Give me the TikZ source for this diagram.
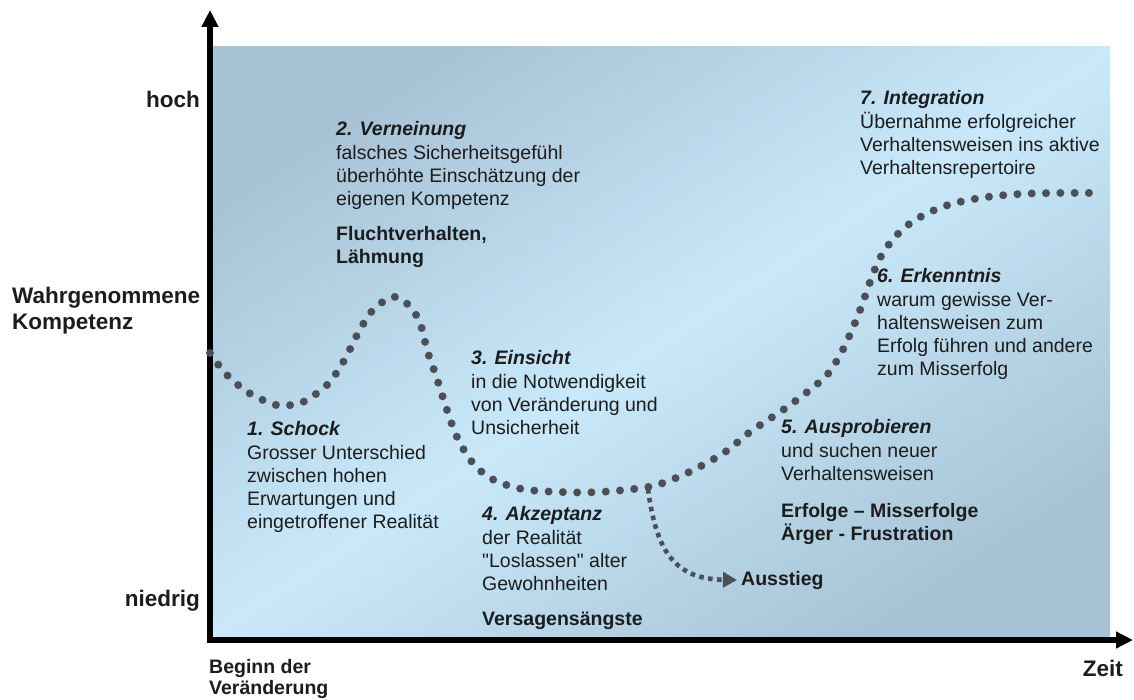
\documentclass[tikz,border=0pt]{standalone}
\usepackage{fontspec}
\setmainfont{Liberation Sans}[Ligatures=TeXOff]
\usetikzlibrary{arrows.meta}
\definecolor{dotc}{HTML}{4A5056}
\definecolor{bgdark}{HTML}{A8C3D6}
\definecolor{bglight}{HTML}{C9E9FB}
\definecolor{txt}{HTML}{1C1C1C}
\begin{document}
\begin{tikzpicture}[x=1pt,y=-1pt,
  blk/.style={anchor=north west, inner sep=0pt, align=left, text=txt,
    font=\fontsize{19.5}{23.2}\selectfont, execute at begin node=\strut},
  lbl/.style={inner sep=0pt, text=txt, font=\fontsize{22.5}{26}\selectfont\bfseries},
  axisline/.style={line width=5.5pt, black, line cap=rect, -{Triangle[length=17pt,width=16pt]}},
  dotline/.style={line width=8pt, dotc, line cap=round, dash pattern=on 0pt off 14.3pt},
  exitline/.style={line width=4.6pt, dotc, dash pattern=on 4.6pt off 4.4pt, -{Triangle[length=14pt,width=15pt]}}
]
\useasboundingbox (0,0) rectangle (1134,700);
\shade[top color=bgdark, bottom color=bgdark, middle color=bglight, shading angle=33] (213,47) rectangle (1110,637);

% axes
\coordinate (O) at (210,640);
\coordinate (ytop) at (210,10);
\coordinate (xend) at (1133,640);
\draw[axisline] (O) -- (ytop);
\draw[axisline] (O) -- (xend);

% axis labels
\node[lbl, anchor=base east] (hoch) at (200,108) {hoch};
\node[lbl, anchor=base east] (niedrig) at (200,606) {niedrig};
\node[blk, font=\fontsize{22.5}{26}\selectfont\bfseries] (wk) at (12,287) {Wahrgenommene\\Kompetenz};
\node[blk, font=\fontsize{19.5}{21.6}\selectfont\bfseries] (beginn) at (209,659) {Beginn der\\Veränderung};
\node[lbl, anchor=base east] (zeit) at (1123,676) {Zeit};

% main curve
\draw[dotline] plot[smooth, tension=0.55] coordinates {
 (210,353) (226,374) (249,393) (276,405) (291,405) (305,401) (328,384)
 (345,359) (356,337) (372,311) (392,297) (405,302) (415,313) (422,329)
 (427,350) (433,367) (439,385) (447,410) (457,437) (472,462) (492,479)
 (522,489) (560,492) (600,492) (648,487) (676,478) (703,465) (728,450)
 (750,432) (790,405) (825,377) (840,355) (852,330) (862,305) (870,282)
 (880,258) (895,237) (915,220) (945,206) (980,198) (1020,194) (1060,193) (1100,193)};

% exit
\coordinate (ex) at (648,489);
\node[inner sep=0pt, text=txt, font=\fontsize{19.5}{23.2}\selectfont\bfseries, anchor=base west] (aus) at (741,585) {Ausstieg};
\draw[exitline] (ex) .. controls (656,548) and (672,579) .. ([xshift=-4pt]aus.west);

% text blocks
\node[blk] (n2) at (336,121.5) {\textbf{\textit{2. Verneinung}}\\falsches Sicherheitsgefühl\\überhöhte Einschätzung der\\eigenen Kompetenz\\[12pt]\textbf{Fluchtverhalten,}\\\textbf{Lähmung}};
\node[blk] (n7) at (860,90.5) {\textbf{\textit{7. Integration}}\\Übernahme erfolgreicher\\Verhaltensweisen ins aktive\\Verhaltensrepertoire};
\node[blk] (n6) at (877,268.5) {\textbf{\textit{6. Erkenntnis}}\\warum gewisse Ver-\\haltensweisen zum\\Erfolg führen und andere\\zum Misserfolg};
\node[blk] (n3) at (471,350.5) {\textbf{\textit{3. Einsicht}}\\in die Notwendigkeit\\von Veränderung und\\Unsicherheit};
\node[blk] (n1) at (247,421.5) {\textbf{\textit{1. Schock}}\\Grosser Unterschied\\zwischen hohen\\Erwartungen und\\eingetroffener Realität};
\node[blk] (n5) at (781,419.5) {\textbf{\textit{5. Ausprobieren}}\\und suchen neuer\\Verhaltensweisen\\[14pt]\textbf{Erfolge – Misserfolge}\\\textbf{Ärger - Frustration}};
\node[blk] (n4) at (482,506.5) {\textbf{\textit{4. Akzeptanz}}\\der Realität\\"Loslassen" alter\\Gewohnheiten\\[12pt]\textbf{Versagensängste}};
\end{tikzpicture}
\end{document}
